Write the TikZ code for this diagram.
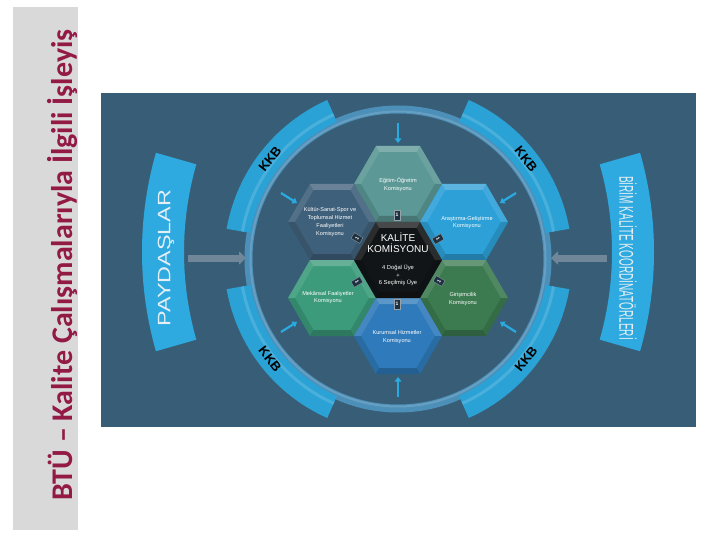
\documentclass[tikz,border=0pt]{standalone}
\usepackage{fontspec}
\setmainfont{Liberation Sans}
\newfontfamily\titlefont{Carlito}
\usetikzlibrary{arrows.meta,calc}
\definecolor{bgpanel}{HTML}{D9D9D9}
\definecolor{titlered}{HTML}{921A45}
\definecolor{mainbg}{HTML}{385E77}
\definecolor{bandblue}{HTML}{2BA2D5}
\definecolor{sidebandblue}{HTML}{2EAAE0}
\definecolor{ringblue}{HTML}{4C8FB8}
\definecolor{arrowblue}{HTML}{29ABE2}
\definecolor{arrowgray}{HTML}{6F8799}
\definecolor{hexegt}{HTML}{5B9896}
\definecolor{hexkul}{HTML}{3F607A}
\definecolor{hexars}{HTML}{2CA0D7}
\definecolor{hexmek}{HTML}{3B9B7B}
\definecolor{hexgir}{HTML}{3C7B50}
\definecolor{hexkur}{HTML}{2F7ABA}
\definecolor{hexcen}{HTML}{121517}
\definecolor{badge}{HTML}{1E3140}
\definecolor{sidetext}{HTML}{E4EEF4}
\begin{document}
\begin{tikzpicture}[x=1pt,y=-1pt,
  hexa/.pic={
    \path[pic actions] (-44,0)--(-22,-38)--(22,-38)--(44,0)--(22,38)--(-22,38)--cycle;
    \fill[white,opacity=.22] (-22,-38)--(22,-38)--(18.5,-32)--(-18.5,-32)--cycle;
    \fill[white,opacity=.10] (-44,0)--(-22,-38)--(-18.5,-32)--(-37,0)--cycle;
    \fill[white,opacity=.10] (44,0)--(22,-38)--(18.5,-32)--(37,0)--cycle;
    \fill[black,opacity=.12] (-44,0)--(-22,38)--(-18.5,32)--(-37,0)--cycle;
    \fill[black,opacity=.12] (44,0)--(22,38)--(18.5,32)--(37,0)--cycle;
    \fill[black,opacity=.22] (-22,38)--(22,38)--(18.5,32)--(-18.5,32)--cycle;
  },
  hextxt/.style={text=white, font=\fontsize{5.6}{7.8}\selectfont, align=center, inner sep=0},
  kkb/.style={font=\bfseries\fontsize{13}{13}\selectfont, text=black, inner sep=0},
  badgebox/.style={fill=badge, draw=white!55!badge, line width=0.3pt, minimum width=6.5pt, minimum height=10pt, inner sep=0, text=white, font=\bfseries\fontsize{5}{5}\selectfont},
  smallarrow/.style={draw=arrowblue, line width=2.2pt, -{Triangle[length=4.5pt,width=6.5pt]}},
  bigarrow/.style={draw=arrowgray, line width=7pt, -{Triangle[length=7pt,width=13pt]}},
  sidetxt/.style={text=sidetext, inner sep=0},
]
\useasboundingbox (0,0) rectangle (720,540);
% left title panel
\fill[bgpanel] (13,7) rectangle (78,530);
\node[rotate=90, text=titlered, inner sep=0, font=\titlefont\bfseries\fontsize{30}{30}\selectfont] (title) at (62,265) {BTÜ – Kalite Çalışmalarıyla İlgili İşleyiş};
% main picture background
\fill[mainbg] (101,93) rectangle (696,427);
% thin ring
\draw[ringblue, line width=8pt] (398,259) circle[radius=149.5];
\draw[white, opacity=.15, line width=2pt] (398,259) circle[radius=147.5];
% KKB bands
\foreach \s/\e in {-170/-114, -66/-10, 10/66, 114/170}{
  \fill[bandblue] ($(398,259)+(\s:174)$) arc[start angle=\s, end angle=\e, radius=174]
     -- ($(398,259)+(\e:150)$) arc[start angle=\e, end angle=\s, radius=150] -- cycle;
  \draw[white, opacity=.15, line width=3pt] ($(398,259)+(\s:158)$) arc[start angle=\s, end angle=\e, radius=158];
}
\node[kkb, rotate=52]  (kkb1) at (270,159) {KKB};
\node[kkb, rotate=-52] (kkb2) at (526,159) {KKB};
\node[kkb, rotate=-52] (kkb3) at (270,359) {KKB};
\node[kkb, rotate=52]  (kkb4) at (526,359) {KKB};
% side bands
\fill[sidebandblue] ($(502,252)+(164:360)$) arc[start angle=164, end angle=196, radius=360]
   -- ($(502,252)+(196:318)$) arc[start angle=196, end angle=164, radius=318] -- cycle;
\fill[sidebandblue] ($(294,252)+(-16:360)$) arc[start angle=-16, end angle=16, radius=360]
   -- ($(294,252)+(16:318)$) arc[start angle=16, end angle=-16, radius=318] -- cycle;
\node[sidetxt, rotate=90, font=\fontsize{18}{18}\selectfont] (pay) at (166,258) {\scalebox{1.3}[1]{PAYDAŞLAR}};
\node[sidetxt, rotate=-90, font=\fontsize{20}{20}\selectfont] (bkk) at (628,258) {\scalebox{0.5}[1]{BİRİM KALİTE KOORDİNATÖRLERİ}};
% big arrows
\coordinate (pl1) at (188,258); \coordinate (pl2) at (246,258);
\coordinate (pr1) at (607,258); \coordinate (pr2) at (551,258);
\draw[bigarrow] (pl1) -- (pl2);
\draw[bigarrow] (pr1) -- (pr2);
% small arrows
\coordinate (a1s) at (398,123); \coordinate (a1e) at (398,143);
\coordinate (a2s) at (398,397); \coordinate (a2e) at (398,377);
\coordinate (a3s) at (281,193); \coordinate (a3e) at (297,203);
\coordinate (a4s) at (516,193); \coordinate (a4e) at (500,203);
\coordinate (a5s) at (281,332); \coordinate (a5e) at (297,322);
\coordinate (a6s) at (516,332); \coordinate (a6e) at (500,322);
\foreach \i in {1,...,6}{\draw[smallarrow] (a\i s) -- (a\i e);}
% hexagons
\pic[fill=hexegt] at (398,184) {hexa};
\pic[fill=hexkul] at (332,222) {hexa};
\pic[fill=hexars] at (464,222) {hexa};
\pic[fill=hexmek] at (332,298) {hexa};
\pic[fill=hexgir] at (464,298) {hexa};
\pic[fill=hexkur] at (398,336) {hexa};
\pic[fill=hexcen] at (398,260) {hexa};
\node[hextxt] (tegt) at (398,185) {Eğitim-Öğretim\\Komisyonu};
\node[hextxt] (tkul) at (330,222) {Kültür-Sanat-Spor ve\\Toplumsal Hizmet\\Faaliyetleri\\Komisyonu};
\node[hextxt] (tars) at (467,222.5) {Araştırma-Geliştirme\\Komisyonu};
\node[hextxt] (tmek) at (328,297.5) {Mekânsal Faaliyetler\\Komisyonu};
\node[hextxt] (tgir) at (463,299) {Girişimcilik\\Komisyonu};
\node[hextxt] (tkur) at (397,337) {Kurumsal Hizmetler\\Komisyonu};
\node[text=white, align=center, inner sep=0, font=\fontsize{10}{11}\selectfont] (kal) at (398,242.5) {KALİTE\\KOMİSYONU};
\node[text=white, align=center, inner sep=0, font=\fontsize{5.8}{7.5}\selectfont] (uye) at (398,275.5) {4 Doğal Üye\\+\\6 Seçilmiş Üye};
% badges
\node[badgebox] (b1) at (397,215) {1};
\node[badgebox, rotate=60] (b2) at (357,238) {1};
\node[badgebox, rotate=-60] (b3) at (438,239) {1};
\node[badgebox, rotate=-60] (b4) at (357,282) {1};
\node[badgebox, rotate=60] (b5) at (439,281) {1};
\node[badgebox] (b6) at (397,304) {1};
\end{tikzpicture}
\end{document}
